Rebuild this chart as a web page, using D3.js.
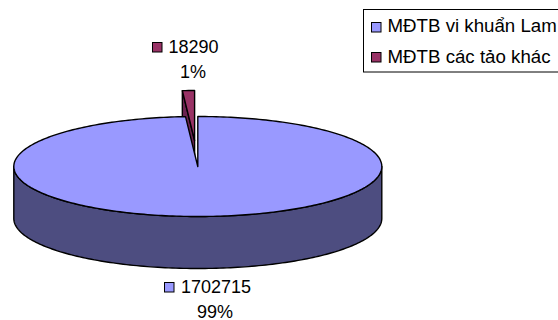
<!DOCTYPE html>
<html>
<head>
<meta charset="utf-8">
<script src="https://cdn.jsdelivr.net/npm/d3@7/dist/d3.min.js"></script>
<style>
html,body{margin:0;padding:0;background:#fff;overflow:hidden}
text{font-family:"Liberation Sans",Arial,sans-serif;font-size:18px;fill:#000}
text.legend{font-size:18.7px}
</style>
</head>
<body>
<svg id="chart" width="558" height="320"></svg>
<script>
// Mean density of each algal group
const categories = ["MĐTB vi khuẩn Lam", "MĐTB các tảo khác"];
const seriesValues = [1702715, 18290];
const percentLabels = ["99%", "1%"];
const topColors = ["#9999ff", "#993366"];
const wallColors = ["#4d4d80", "#6b2350"];

const svg = d3.select("#chart");

// Tilted disc geometry
const cx = 197.8, cy = 166.5, rx = 184, ry = 50, depth = 52, explode = 0.52;
const xScale = d3.scaleLinear().domain([-1, 1]).range([cx - rx, cx + rx]);
const yScale = d3.scaleLinear().domain([-1, 1]).range([cy - ry, cy + ry]);

const arcs = d3.pie().sort(null).startAngle(0).endAngle(2 * Math.PI)(seriesValues);
const line = d3.line();

const rimPoints = (a0, a1) => {
  const n = Math.max(2, Math.ceil(Math.abs(a1 - a0) / 0.02));
  return d3.range(n + 1).map(i => {
    const a = a0 + (a1 - a0) * i / n;
    return [xScale(Math.sin(a)), yScale(-Math.cos(a))];
  });
};

function drawSlice(d, i) {
  const mid = (d.startAngle + d.endAngle) / 2;
  const off = i === 0 ? 0 : explode;
  const g = svg.append("g").attr("transform",
    `translate(${xScale(Math.sin(mid) * off) - cx},${yScale(-Math.cos(mid) * off) - cy})`);
  const stroke = { stroke: "#000", "stroke-width": 1.4, "stroke-linejoin": "round" };
  const apply = (sel, o) => { Object.entries(o).forEach(([k, v]) => sel.attr(k, v)); return sel; };

  const rim = rimPoints(d.startAngle, d.endAngle);
  const apex = [xScale(0), yScale(0)];

  // Radial wall on the left of the wedge, visible for the raised slice
  if (i === 1) {
    const first = rim[0];
    apply(g.append("path")
      .attr("d", line([apex, first, [first[0], first[1] + depth], [apex[0], apex[1] + depth]]) + "Z")
      .attr("fill", wallColors[i]), stroke);
  }

  // Outer wall along the front half of the rim
  const front = rimPoints(Math.max(d.startAngle, Math.PI / 2), Math.min(d.endAngle, 3 * Math.PI / 2));
  if (front.length && d.startAngle < 3 * Math.PI / 2 && d.endAngle > Math.PI / 2) {
    const lower = front.map(p => [p[0], p[1] + depth]).reverse();
    apply(g.append("path").attr("d", line(front.concat(lower)) + "Z").attr("fill", wallColors[i]), stroke);
  }

  // Top face
  apply(g.append("path").attr("d", line([apex].concat(rim)) + "Z").attr("fill", topColors[i]), stroke);
}

// The raised small slice sits behind the large one
drawSlice(arcs[1], 1);
drawSlice(arcs[0], 0);

const swatch = (x, y, fill) => svg.append("rect")
  .attr("x", x).attr("y", y).attr("width", 9.5).attr("height", 9.5)
  .attr("fill", fill).attr("stroke", "#000").attr("stroke-width", 1);

// Data labels
svg.append("text").attr("x", 168.5).attr("y", 53).text(seriesValues[1]);
swatch(152.5, 42.5, topColors[1]);
svg.append("text").attr("x", 193).attr("y", 78).attr("text-anchor", "middle").text(percentLabels[1]);

svg.append("text").attr("x", 181).attr("y", 293).text(seriesValues[0]);
swatch(164.5, 282.5, topColors[0]);
svg.append("text").attr("x", 215).attr("y", 317.5).attr("text-anchor", "middle").text(percentLabels[0]);

// Legend box, open past the right edge of the canvas
svg.append("rect").attr("x", 363.5).attr("y", 9.5).attr("width", 210).attr("height", 62.5)
  .attr("fill", "#fff").attr("stroke", "#000").attr("stroke-width", 1);
categories.forEach((c, i) => {
  swatch(371.5, 22.5 + i * 30, topColors[i]);
  svg.append("text").attr("class", "legend").attr("x", 387.5).attr("y", 32 + i * 30.5).text(c);
});
</script>
</body>
</html>
